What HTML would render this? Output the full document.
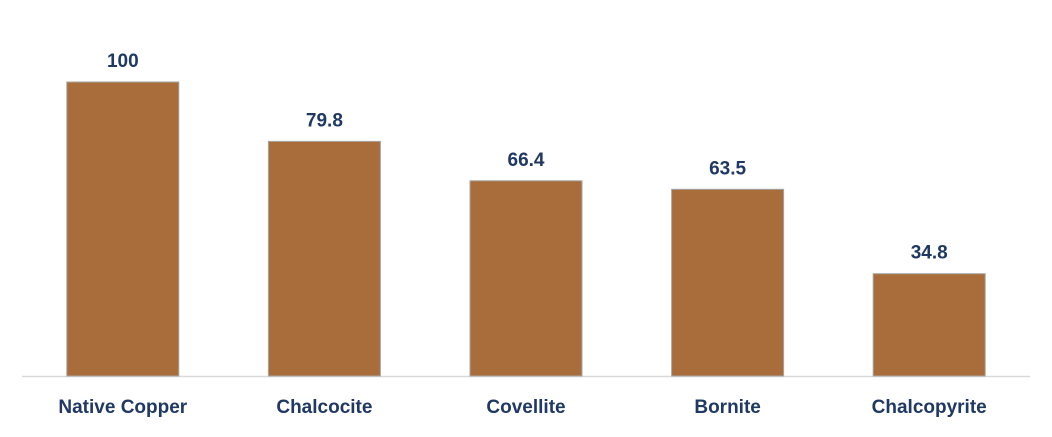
<!DOCTYPE html>
<html><head><meta charset="utf-8"><style>
body{margin:0;background:#fff;width:1052px;height:432px;overflow:hidden}
svg text{font-family:"Liberation Sans",sans-serif;font-weight:bold;fill:#1f3864;text-anchor:middle}
</style></head><body>
<svg id="chart" width="1052" height="432" viewBox="0 0 1052 432">
<line x1="22" y1="376.5" x2="1030" y2="376.5" stroke="#d9d9d9" stroke-width="1.5"/>
</svg>
<script>
const categories=["Native Copper","Chalcocite","Covellite","Bornite","Chalcopyrite"];
const values=[100,79.8,66.4,63.5,34.8];
const valueLabels=["100","79.8","66.4","63.5","34.8"];
const svg=document.getElementById('chart');
const NS="http://www.w3.org/2000/svg";
const x0=22,band=201.6,barW=112,baseY=376,scale=294/100;
const xc=i=>x0+band*(i+0.5);
const y=v=>baseY-v*scale;
categories.forEach((c,i)=>{
  const r=document.createElementNS(NS,'rect');
  
  
  r.setAttribute('x',xc(i)-barW/2);r.setAttribute('y',y(values[i]));
  r.setAttribute('width',barW);r.setAttribute('height',baseY-y(values[i]));
  r.setAttribute('fill','#a86d3a');r.setAttribute('stroke','#a6a6a6');r.setAttribute('stroke-width','1');
  svg.appendChild(r);
  const t=document.createElementNS(NS,'text');
  
  
  t.setAttribute('x',xc(i));t.setAttribute('y',y(values[i])-15);t.setAttribute('font-size','19');
  t.textContent=valueLabels[i];svg.appendChild(t);
  const l=document.createElementNS(NS,'text');
  
  
  l.setAttribute('x',xc(i));l.setAttribute('y',413);l.setAttribute('font-size','19');
  l.textContent=c;svg.appendChild(l);
});
</script>
</body></html>
